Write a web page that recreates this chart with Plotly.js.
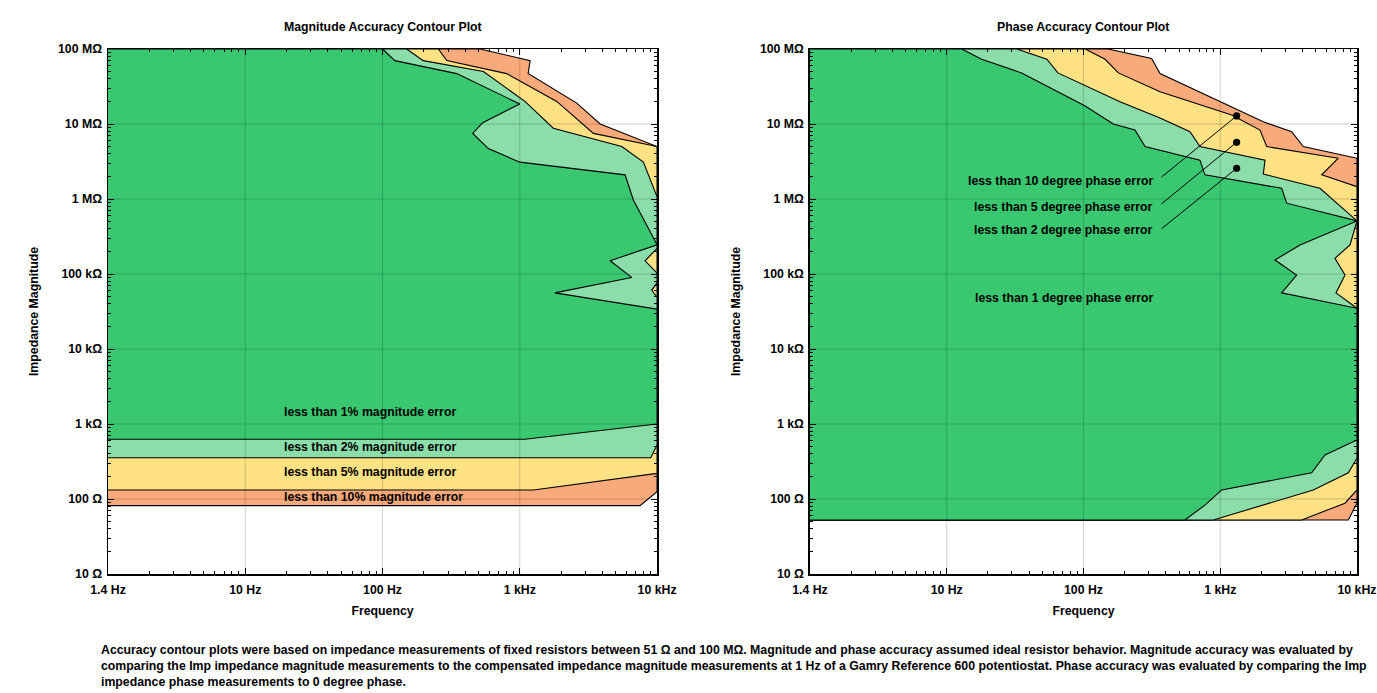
<!DOCTYPE html>
<html>
<head>
<meta charset="utf-8">
<script src="https://cdn.plot.ly/plotly-3.0.1.min.js"></script>
<style>
  html, body { margin: 0; padding: 0; background: #fff; }
  #chart { width: 1377px; height: 693px; }
</style>
</head>
<body>
<div id="chart"></div>
<script>
// Frequency axis ticks (the first decade is labelled 1.4 Hz in the original)
const freqTicks = [1, 10, 100, 1000, 10000];
const freqLabels = ['1.4 Hz', '10 Hz', '100 Hz', '1 kHz', '10 kHz'];
const zTicks = [10, 100, 1e3, 1e4, 1e5, 1e6, 1e7, 1e8];
const zLabels = ['10 Ω', '100 Ω', '1 kΩ', '10 kΩ', '100 kΩ', '1 MΩ', '10 MΩ', '100 MΩ'];

// Magnitude accuracy regions (Hz, Ω)
const mag10Freq = [1, 513, 1190, 1150, 2600, 3850, 10000, 10000, 7520, 1];
const mag10Z    = [1e8, 1e8, 7.0e7, 4.7e7, 1.9e7, 1.0e7, 5.0e6, 125, 81.5, 81.5];
const mag5Freq  = [1, 255, 294, 803, 1860, 3440, 10000, 10000, 1260, 1];
const mag5Z     = [1e8, 1e8, 7.0e7, 4.7e7, 2.0e7, 7.5e6, 5.0e6, 220, 132, 132];
const mag2Freq  = [1, 150, 198, 543, 1090, 1755, 5530, 7950, 10000, 10000, 8180, 10000, 10000, 9150, 10000, 10000, 9000, 1];
const mag2Z     = [1e8, 1e8, 7.0e7, 5.0e7, 2.0e7, 8.8e6, 5.0e6, 3.1e6, 1.07e6, 2.2e5, 1.5e5, 1.03e5, 7.6e4, 6.1e4, 4.9e4, 525, 355, 355];
const mag1Freq  = [1, 100, 123, 347, 1000, 537, 454, 590, 1000, 5850, 6720, 10000, 4550, 6540, 1800, 10000, 10000, 1090, 1];
const mag1Z     = [1e8, 1e8, 7.0e7, 4.7e7, 1.85e7, 1.04e7, 7.5e6, 4.7e6, 3.1e6, 2.1e6, 9.7e5, 2.45e5, 1.5e5, 9.0e4, 5.6e4, 3.4e4, 1000, 625, 625];

// Phase accuracy regions (Hz, Ω)
const ph10Freq = [1, 151, 315, 363, 2065, 3330, 4050, 10000, 10000, 8640, 1];
const ph10Z    = [1e8, 1e8, 7.5e7, 4.7e7, 1.07e7, 7.9e6, 5.0e6, 3.5e6, 88, 52.5, 52.5];
const ph5Freq  = [1, 103, 144, 180, 363, 1213, 1953, 2187, 7300, 5520, 10000, 10000, 8170, 3940, 1];
const ph5Z     = [1e8, 1e8, 7.3e7, 4.8e7, 2.7e7, 1.32e7, 8.3e6, 5.0e6, 3.5e6, 2.1e6, 1.46e6, 132, 88, 52.5, 52.5];
const ph2Freq  = [1, 32.5, 54, 65, 185, 363, 601, 711, 2125, 2065, 5360, 10000, 8890, 6900, 8170, 7020, 10000, 10000, 8640, 4790, 890, 1];
const ph2Z     = [1e8, 1e8, 7.3e7, 4.8e7, 1.98e7, 1.2e7, 7.9e6, 5.0e6, 3.3e6, 2.15e6, 1.39e6, 5.1e5, 2.44e5, 1.62e5, 9.7e4, 5.6e4, 3.5e4, 349, 224, 132, 52.5, 52.5];
const ph1Freq  = [1, 12.9, 18, 35.3, 103, 165, 238, 282, 711, 773, 2813, 3062, 10000, 3830, 2515, 3620, 2813, 10000, 10000, 5830, 4665, 1025, 773, 552, 1];
const ph1Z     = [1e8, 1e8, 7.3e7, 4.8e7, 1.74e7, 1.0e7, 8.3e6, 5.0e6, 3.3e6, 2.1e6, 1.39e6, 8.8e5, 5.1e5, 2.44e5, 1.54e5, 9.7e4, 5.6e4, 3.5e4, 612, 386, 224, 132, 83, 52.5, 52.5];

// labels
const magLabels = ['less than 1% magnitude error', 'less than 2% magnitude error',
                   'less than 5% magnitude error', 'less than 10% magnitude error'];
const magLabelFreq = [18.5, 18.5, 18.5, 18.5];
const magLabelZ = [1445, 493, 229, 106];
const phLabels = ['less than 10 degree phase error', 'less than 5 degree phase error',
                  'less than 2 degree phase error', 'less than 1 degree phase error'];
const phLabelFreq = [333, 333, 333, 333];
const phLabelZ = [1.74e6, 7.8e5, 3.87e5, 4.79e4];
// leader lines: from label end to dot
const leaderTailFreq = [363, 363, 363];
const leaderTailZ = [1.89e6, 8.3e5, 3.87e5];
const leaderDotFreq = [1318, 1318, 1318];
const leaderDotZ = [1.28e7, 5.7e6, 2.57e6];

const colors = {p10: '#f9aa7a', p5: '#fde183', p2: '#8bdea9', p1: '#39c870'};
const FONT = 'Liberation Sans, Arial, sans-serif';
const FS = 12.3;

function region(x, y, color, xa, ya) {
  return {
    x, y, xaxis: xa, yaxis: ya, type: 'scatter', mode: 'lines',
    fill: 'toself', fillcolor: color,
    line: {color: '#000', width: 1.1},
    hoverinfo: 'skip', showlegend: false
  };
}

const traces = [
  region(mag10Freq, mag10Z, colors.p10, 'x', 'y'),
  region(mag5Freq, mag5Z, colors.p5, 'x', 'y'),
  region(mag2Freq, mag2Z, colors.p2, 'x', 'y'),
  region(mag1Freq, mag1Z, colors.p1, 'x', 'y'),
  region(ph10Freq, ph10Z, colors.p10, 'x2', 'y2'),
  region(ph5Freq, ph5Z, colors.p5, 'x2', 'y2'),
  region(ph2Freq, ph2Z, colors.p2, 'x2', 'y2'),
  region(ph1Freq, ph1Z, colors.p1, 'x2', 'y2'),
];

const boldFont = {family: FONT, size: FS, color: '#000', weight: 'bold'};

function xAxis(domain, anchor) {
  return {
    type: 'log', range: [0, 4], domain, anchor,
    tickvals: freqTicks, ticktext: freqLabels, tickfont: boldFont, ticklabelstandoff: 4,
    ticks: 'inside', ticklen: 6, tickcolor: '#000', tickwidth: 1,
    minor: {ticks: 'inside', ticklen: 3, tickcolor: '#000', dtick: 'D1', showgrid: false},
    showline: true, linecolor: '#000', linewidth: 1.5, mirror: 'ticks',
    showgrid: false, zeroline: false, fixedrange: true,
    title: {text: 'Frequency', font: boldFont, standoff: 10}
  };
}
function yAxis(anchor) {
  return {
    type: 'log', range: [1, 8], anchor,
    tickvals: zTicks, ticktext: zLabels, tickfont: boldFont, ticklabelstandoff: 2,
    ticks: 'inside', ticklen: 6, tickcolor: '#000', tickwidth: 1,
    minor: {ticks: 'inside', ticklen: 3, tickcolor: '#000', dtick: 'D1', showgrid: false},
    showline: true, linecolor: '#000', linewidth: 1.5, mirror: 'ticks',
    showgrid: false, zeroline: false, fixedrange: true,
    title: {text: 'Impedance Magnitude', font: boldFont, standoff: 16}
  };
}

// grid drawn above the fills
const shapes = [];
[['x', 'y'], ['x2', 'y2']].forEach(([xa, ya]) => {
  freqTicks.slice(1, -1).forEach(f => shapes.push({
    type: 'line', xref: xa, yref: ya + ' domain', x0: f, x1: f, y0: 0, y1: 1,
    line: {color: 'rgba(0,0,0,0.18)', width: 1}, layer: 'above'
  }));
  zTicks.slice(1, -1).forEach(z => shapes.push({
    type: 'line', xref: xa + ' domain', yref: ya, x0: 0, x1: 1, y0: z, y1: z,
    line: {color: 'rgba(0,0,0,0.18)', width: 1}, layer: 'above'
  }));
});

const annotations = [];
magLabels.forEach((t, i) => annotations.push({
  xref: 'x', yref: 'y', x: Math.log10(magLabelFreq[i]), y: Math.log10(magLabelZ[i]),
  text: t, showarrow: false, xanchor: 'left', yanchor: 'middle', font: boldFont
}));
phLabels.forEach((t, i) => annotations.push({
  xref: 'x2', yref: 'y2', x: Math.log10(phLabelFreq[i]), y: Math.log10(phLabelZ[i]),
  text: t, showarrow: false, xanchor: i < 3 ? 'right' : 'center', yanchor: 'middle', font: boldFont,
  xshift: i < 3 ? 0 : -90
}));
leaderDotFreq.forEach((f, i) => annotations.push({
  xref: 'x2', yref: 'y2', x: Math.log10(f), y: Math.log10(leaderDotZ[i]),
  axref: 'x2', ayref: 'y2', ax: Math.log10(leaderTailFreq[i]), ay: Math.log10(leaderTailZ[i]),
  text: '', showarrow: true, arrowhead: 6, arrowsize: 1.8, arrowwidth: 1, arrowcolor: '#000', standoff: 0
}));
// panel titles
[['x', 'y', 'Magnitude Accuracy Contour Plot'], ['x2', 'y2', 'Phase Accuracy Contour Plot']].forEach(([xa, ya, t]) =>
  annotations.push({
    xref: xa + ' domain', yref: ya + ' domain', x: 0.5, y: 1, yanchor: 'bottom', yshift: 13,
    text: t, showarrow: false, font: boldFont
  }));
// caption
annotations.push({
  xref: 'paper', yref: 'paper', x: -0.0072, y: -0.127, xanchor: 'left', yanchor: 'top', align: 'left',
  showarrow: false, font: boldFont,
  text: 'Accuracy contour plots were based on impedance measurements of fixed resistors between 51 Ω and 100 MΩ. Magnitude and phase accuracy assumed ideal resistor behavior. Magnitude accuracy was evaluated by<br>' +
        'comparing the Imp impedance magnitude measurements to the compensated impedance magnitude measurements at 1 Hz of a Gamry Reference 600 potentiostat. Phase accuracy was evaluated by comparing the Imp<br>' +
        'impedance phase measurements to 0 degree phase.'
});

const layout = {
  width: 1377, height: 693,
  margin: {l: 108, r: 20, t: 49, b: 119},
  paper_bgcolor: '#fff', plot_bgcolor: '#fff',
  font: {family: FONT, color: '#000'},
  xaxis: xAxis([0, 0.4396], 'y'),
  yaxis: yAxis('x'),
  xaxis2: xAxis([0.562, 1], 'y2'),
  yaxis2: yAxis('x2'),
  shapes, annotations,
  showlegend: false
};

Plotly.newPlot('chart', traces, layout, {displayModeBar: false, staticPlot: true});
</script>
</body>
</html>
